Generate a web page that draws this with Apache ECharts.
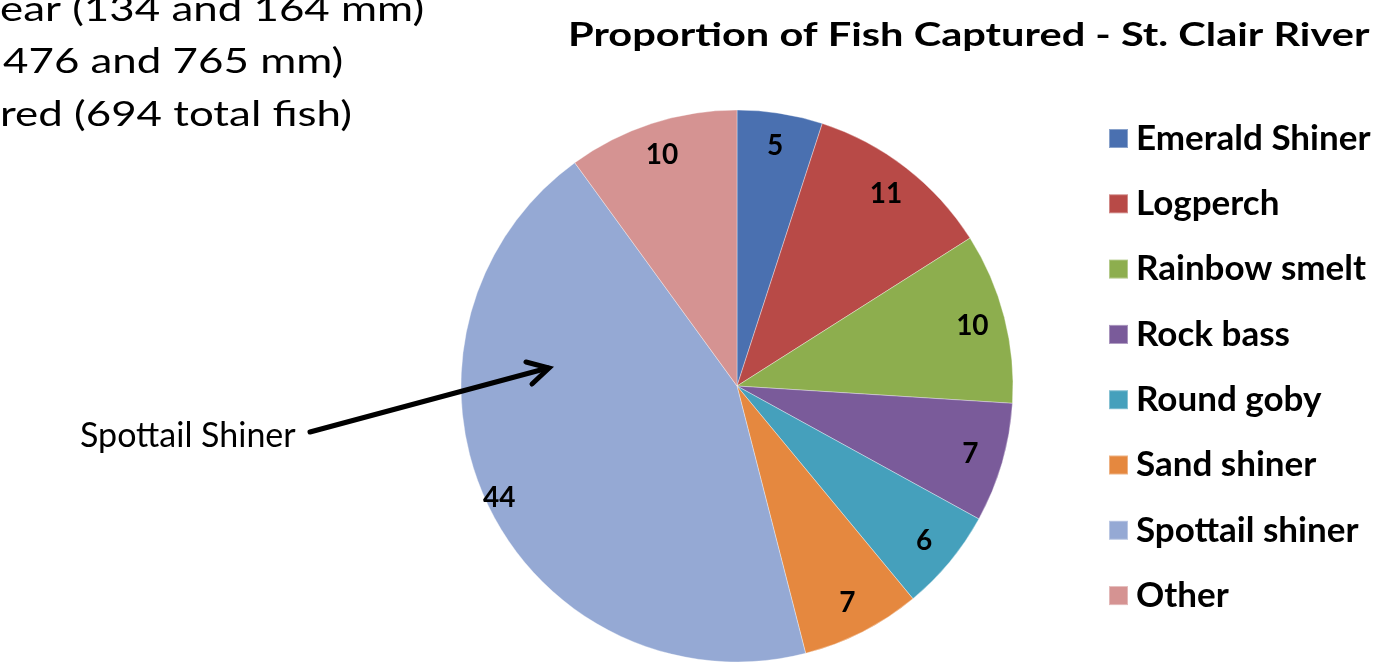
<!DOCTYPE html>
<html>
<head>
<meta charset="utf-8">
<script src="https://cdn.jsdelivr.net/npm/echarts@6/dist/echarts.min.js"></script>
<style>
html,body{margin:0;padding:0;background:#fff;}
#chart{width:1382px;height:662px;}
</style>
</head>
<body>
<div id="chart"></div>
<script>
// ---- data ----
const categories = ['Emerald Shiner','Logperch','Rainbow smelt','Rock bass','Round goby','Sand shiner','Spottail shiner','Other'];
const values = [5, 11, 10, 7, 6, 7, 44, 10];
const colors = ['#4a70b0','#b84a47','#8dae4e','#7a5b9a','#45a0bc','#e5883f','#95a9d4','#d59392'];
const titleText = 'Proportion of Fish Captured - St. Clair River';
const noteLines = ['ear (134 and 164 mm)', '476 and 765 mm)', 'red (694 total fish)'];
const arrowLabel = 'Spottail Shiner';

const chart = echarts.init(document.getElementById('chart'), null, {renderer:'canvas'});

const pieData = categories.map((c, i) => ({name: c, value: values[i], itemStyle: {color: colors[i]}}));
const labelData = categories.map((c, i) => {
  const d = {name: c, value: values[i]};
  if (i === 6) d.label = {offset: [-18, 9]};
  return d;
});

const center = [737, 386];
const R = 276;

const option = {
  animation: false,
  backgroundColor: '#ffffff',
  legend: {
    orient: 'vertical',
    left: 1103,
    top: 116,
    icon: 'rect',
    itemWidth: 19,
    itemHeight: 19,
    itemGap: 30.3,
    data: categories,
    textStyle: {fontFamily: 'Lato', fontWeight: 'bold', fontSize: 35, color: '#000', lineHeight: 30, padding: [0,0,0,3]},
    selectedMode: false
  },
  series: [
    {
      type: 'pie',
      center: center,
      radius: [0, R],
      startAngle: 90,
      clockwise: true,
      label: {show: false},
      labelLine: {show: false},
      itemStyle: {borderColor: 'rgba(255,255,255,0.35)', borderWidth: 1},
      emphasis: {disabled: true},
      data: pieData
    },
    {
      type: 'pie',
      center: center,
      radius: [0, 480],
      startAngle: 90,
      clockwise: true,
      silent: true,
      itemStyle: {color: 'rgba(0,0,0,0)'},
      label: {show: true, position: 'inside', formatter: '{c}', fontFamily: 'Lato', fontWeight: 'bold', fontSize: 28, color: '#000'},
      labelLine: {show: false},
      emphasis: {disabled: true},
      data: labelData,
      z: 5
    }
  ],
  graphic: [
    {type: 'text', id: 'title', left: 568, top: 19, style: {text: titleText, font: 'bold 33px Lato', fill: '#000'}, scaleX: 1.26},
    {type: 'text', left: 0, top: -7, style: {text: noteLines[0], font: '34px Lato', fill: '#000'}, scaleX: 1.29},
    {type: 'text', left: 3, top: 45, style: {text: noteLines[1], font: '34px Lato', fill: '#000'}, scaleX: 1.29},
    {type: 'text', left: 0, top: 98, style: {text: noteLines[2], font: '34px Lato', fill: '#000'}, scaleX: 1.29},
    {type: 'text', left: 80, top: 419, style: {text: arrowLabel, font: '34px Lato', fill: '#000'}},
    {type: 'line', shape: {x1: 310, y1: 432, x2: 548, y2: 368}, style: {stroke: '#000', lineWidth: 5, lineCap: 'round'}, z: 10},
    {type: 'polyline', shape: {points: [[526, 362], [549, 368], [532, 384]]}, style: {stroke: '#000', lineWidth: 5, lineCap: 'round', lineJoin: 'miter', fill: null}, z: 10}
  ]
};
chart.setOption(option);
</script>
</body>
</html>
